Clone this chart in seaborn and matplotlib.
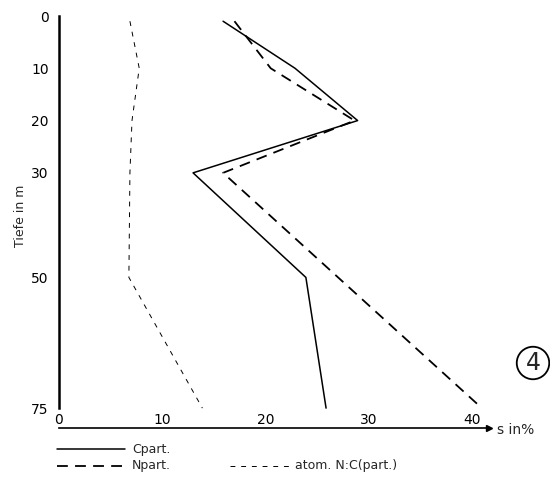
import matplotlib
matplotlib.use("Agg")
import matplotlib.pyplot as plt
import seaborn as sns
import pandas as pd
from matplotlib.lines import Line2D

# Depth profiles (Tiefe in m) and percentages
depth_c = [1, 10, 20, 30, 50, 75]
c_part = [15.9, 22.85, 28.9, 13.0, 23.9, 25.85]

depth_n = [1, 10, 20, 30, 75]
n_part = [17.0, 20.5, 28.6, 15.9, 40.9]

depth_nc = [1, 10, 20, 30, 50, 75]
nc_atom = [6.9, 7.8, 7.1, 6.9, 6.8, 13.9]

x_ticks = [0, 10, 20, 30, 40]
y_ticks = [0, 10, 20, 30, 50, 75]

sns.set_theme(style="white")
plt.rcParams["font.family"] = ["DejaVu Sans"]

fig = plt.figure(figsize=(5.5, 4.8), dpi=100)
ax = fig.add_axes([58.5 / 550, 1 - 428 / 480, 430.6 / 550, 412 / 480])

df_c = pd.DataFrame({"x": c_part, "y": depth_c})
df_n = pd.DataFrame({"x": n_part, "y": depth_n})
df_nc = pd.DataFrame({"x": nc_atom, "y": depth_nc})

sns.lineplot(data=df_c, x="x", y="y", orient="y", ax=ax, color="black", lw=1.1)
sns.lineplot(data=df_n, x="x", y="y", orient="y", ax=ax, color="black", lw=1.3,
             linestyle=(0, (6, 4)))
sns.lineplot(data=df_nc, x="x", y="y", orient="y", ax=ax, color="black", lw=0.7,
             linestyle=(0, (5, 6)))

ax.set_xlim(0, 41.6)
ax.set_ylim(78.8, 0)
ax.set_xlabel("")
ax.set_ylabel("")

for side in ("top", "right"):
    ax.spines[side].set_visible(False)
ax.spines["left"].set_bounds(0, 75)
ax.spines["left"].set_linewidth(1.8)
ax.spines["left"].set_color("black")
ax.spines["bottom"].set_linewidth(1.2)
ax.spines["bottom"].set_color("black")
ax.plot(1, 0, marker=">", color="black", markersize=5,
        transform=ax.transAxes, clip_on=False)

ax.set_xticks(x_ticks)
ax.set_xticklabels([str(v) for v in x_ticks])
ax.set_yticks(y_ticks)
ax.set_yticklabels([str(v) for v in y_ticks])
ax.tick_params(axis="x", direction="in", length=2, width=0.6, pad=-11,
               labelsize=10, colors="black")
ax.tick_params(axis="y", direction="in", length=2, width=0.6, pad=7,
               labelsize=10, colors="black")
ax.grid(False)

fig.text(20 / 550, 1 - 216 / 480, "Tiefe in m", rotation=90,
         ha="center", va="center", fontsize=9)
fig.text(497 / 550, 1 - 430 / 480, "s in%", ha="left", va="center", fontsize=10)

# Legend keys below the axis
def key(x0, x1, y, **kw):
    fig.add_artist(Line2D([x0 / 550, x1 / 550], [1 - y / 480, 1 - y / 480],
                          transform=fig.transFigure, color="black", **kw))

key(57, 125, 449, lw=1.1)
fig.text(132 / 550, 1 - 449 / 480, "Cpart.", va="center", fontsize=9)
key(57, 125, 466, lw=1.3, linestyle=(0, (6, 4)))
fig.text(132 / 550, 1 - 466 / 480, "Npart.", va="center", fontsize=9)
key(230, 290, 466, lw=0.7, linestyle=(0, (5, 6)))
fig.text(295 / 550, 1 - 466 / 480, "atom. N:C(part.)", va="center", fontsize=9)

fig.text(533 / 550, 1 - 363 / 480, "4", ha="center", va="center", fontsize=17,
         bbox=dict(boxstyle="circle,pad=0.18", fc="none", ec="black", lw=1.3))

fig.savefig("out.png", dpi=100, facecolor="white")
